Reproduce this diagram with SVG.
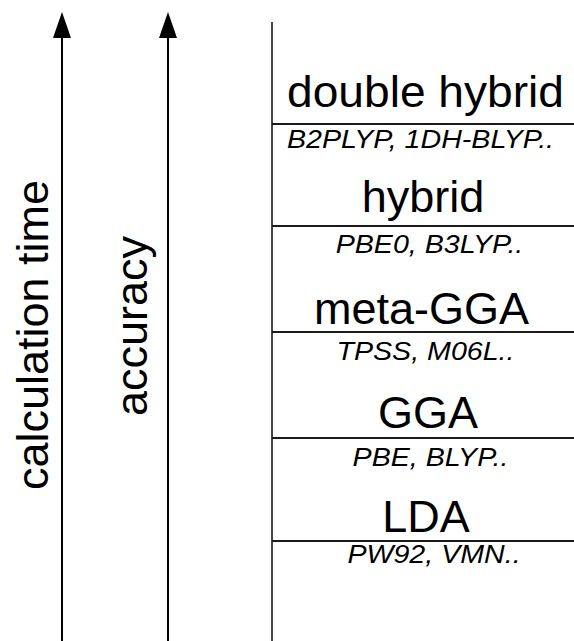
<svg xmlns="http://www.w3.org/2000/svg" width="574" height="641" viewBox="0 0 574 641">
<style>
.big{font-family:"Liberation Sans",Arial,sans-serif;font-size:45px;fill:#000;text-anchor:middle}
.ex{font-family:"Liberation Sans",Arial,sans-serif;font-size:26px;font-style:italic;fill:#000;text-anchor:middle}
.axis{font-family:"Liberation Sans",Arial,sans-serif;font-size:45px;fill:#000;text-anchor:middle}
.sep{stroke:#1a1a1a;stroke-width:2;fill:none}
.arr{stroke:#000;stroke-width:2;fill:none}
</style>
<rect width="574" height="641" fill="#fff"/>
<g id="connectors">
<path class="arr" d="M62,641 V38"/>
<path d="M53,38 L62,12 L71,38 Z" fill="#000"/>
<path class="arr" d="M168,641 V38"/>
<path d="M159,38 L168,12 L177,38 Z" fill="#000"/>
<path d="M272,22 V641" stroke="#444" stroke-width="2" fill="none"/>
</g>
<g id="axis-time"><text class="axis" transform="translate(48,335) rotate(-90)">calculation time</text></g>
<g id="axis-accuracy"><text class="axis" transform="translate(147,326) rotate(-90)">accuracy</text></g>
<g id="double-hybrid">
<text class="big" transform="translate(425.5,107) scale(1.025,1)">double hybrid</text>
<line class="sep" x1="272" y1="124" x2="574" y2="124"/>
<text class="ex" transform="translate(420.5,148) scale(1.1,1)">B2PLYP, 1DH-BLYP..</text>
</g>
<g id="hybrid">
<text class="big" x="423" y="212">hybrid</text>
<line class="sep" x1="272" y1="226" x2="574" y2="226"/>
<text class="ex" transform="translate(429.5,253) scale(1.1,1)">PBE0, B3LYP..</text>
</g>
<g id="meta-gga">
<text class="big" x="421.5" y="324">meta-GGA</text>
<line class="sep" x1="272" y1="332" x2="574" y2="332"/>
<text class="ex" transform="translate(425.5,360) scale(1.1,1)">TPSS, M06L..</text>
</g>
<g id="gga">
<text class="big" x="428" y="428">GGA</text>
<line class="sep" x1="272" y1="438" x2="574" y2="438"/>
<text class="ex" transform="translate(430.5,466) scale(1.1,1)">PBE, BLYP..</text>
</g>
<g id="lda">
<text class="big" x="426" y="532">LDA</text>
<line class="sep" x1="272" y1="541" x2="574" y2="541"/>
<text class="ex" transform="translate(434,563) scale(1.1,1)">PW92, VMN..</text>
</g>
</svg>
